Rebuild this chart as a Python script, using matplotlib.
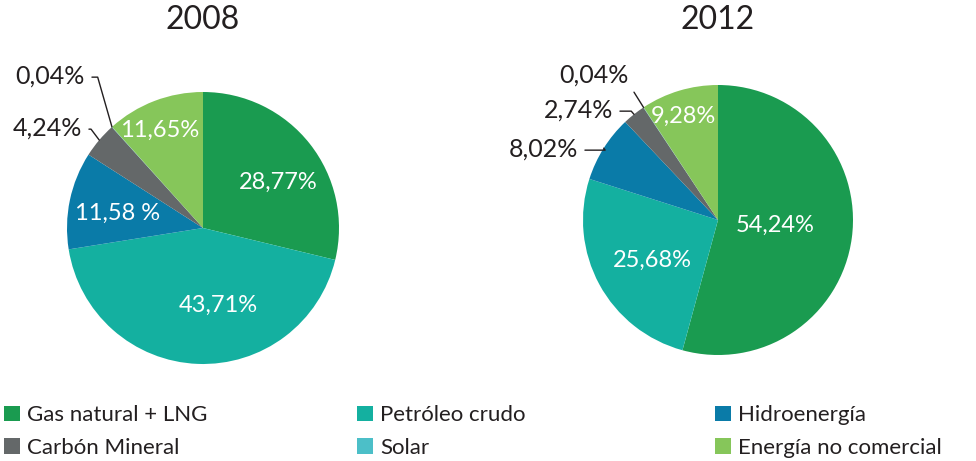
import matplotlib
matplotlib.use('Agg')
import matplotlib.pyplot as plt
from matplotlib.patches import Patch
import numpy as np

plt.rcParams['font.family'] = ['Lato', 'DejaVu Sans']

# data
categories = ['Gas natural + LNG', 'Petróleo crudo', 'Hidroenergía',
              'Carbón Mineral', 'Solar', 'Energía no comercial']
colors = ['#1a9b50', '#14b0a0', '#0a7ba8', '#646869', '#4cbfc8', '#86c65a']
years = ['2008', '2012']
vals_2008 = [28.77, 43.71, 11.58, 4.24, 0.04, 11.65]
vals_2012 = [54.24, 25.68, 8.02, 2.74, 0.04, 9.28]
labels_2008 = ['28,77%', '43,71%', '11,58 %', '4,24%', '0,04%', '11,65%']
labels_2012 = ['54,24%', '25,68%', '8,02%', '2,74%', '0,04%', '9,28%']

H = 461
fig = plt.figure(figsize=(9.76, 4.61), dpi=100)
ax = fig.add_axes([0, 0, 1, 1])

# pie layout (pixel coords, y from top)
pies = [
    dict(vals=vals_2008, labels=labels_2008, center=(203, 228), r=136, title_y=20,
         inside={0: (278, 182), 1: (218, 305), 2: (118, 213), 5: (160, 130)},
         outside={3: ((82, 128), 127), 4: ((85, 76), 106)}),
    dict(vals=vals_2012, labels=labels_2012, center=(718, 220), r=135, title_y=20,
         inside={0: (775, 225), 1: (652, 260), 5: (683, 116)},
         outside={2: ((578, 149), 126), 3: ((613, 110), 131), 4: ((629, 75), None)}),
]

for year, p in zip(years, pies):
    cx, cy = p['center']
    wedges, _ = ax.pie(p['vals'], colors=colors, startangle=90, counterclock=False,
                       center=(cx, H - cy), radius=p['r'], frame=True,
                       wedgeprops=dict(linewidth=0))
    ax.text(cx, H - p['title_y'], year, ha='center', va='center', fontsize=23,
            color='#231f20')
    for i, (tx, ty) in p['inside'].items():
        ax.text(tx, H - ty, p['labels'][i], ha='center', va='center',
                fontsize=17, color='white')
    for i, ((tx, ty), angB) in p['outside'].items():
        w = wedges[i]
        th = np.deg2rad((w.theta1 + w.theta2) / 2)
        px = cx + p['r'] * np.cos(th)
        py = (H - cy) + p['r'] * np.sin(th)
        if angB is None:
            cs = 'arc3'
            rel = (1.0, 0.1)
        else:
            cs = 'angle,angleA=0,angleB=%d,rad=0' % angB
            rel = (1.0, 0.45)
        ax.annotate(p['labels'][i], xy=(px, py), xytext=(tx, H - ty),
                    ha='right', va='center', fontsize=18, color='#231f20',
                    arrowprops=dict(arrowstyle='-', color='#231f20', lw=1.0,
                                    connectionstyle=cs, relpos=rel,
                                    shrinkA=3, shrinkB=0))

ax.set_xlim(0, 976)
ax.set_ylim(0, H)
ax.set_aspect('equal')
ax.axis('off')

# legend in three columns
handles = [Patch(facecolor=c, edgecolor='none') for c in colors]
col_x = [0.0, 353 / 976, 711 / 976]
for k in range(3):
    leg = fig.legend([handles[k], handles[k + 3]], [categories[k], categories[k + 3]],
                     loc='upper left', bbox_to_anchor=(col_x[k], 1 - 401 / H),
                     frameon=False, fontsize=16, handlelength=0.68, handleheight=0.68,
                     handletextpad=0.35, labelspacing=0.55, borderaxespad=0,
                     borderpad=0.2)
    for t in leg.get_texts():
        t.set_color('#231f20')

fig.savefig('out.png', dpi=100)
